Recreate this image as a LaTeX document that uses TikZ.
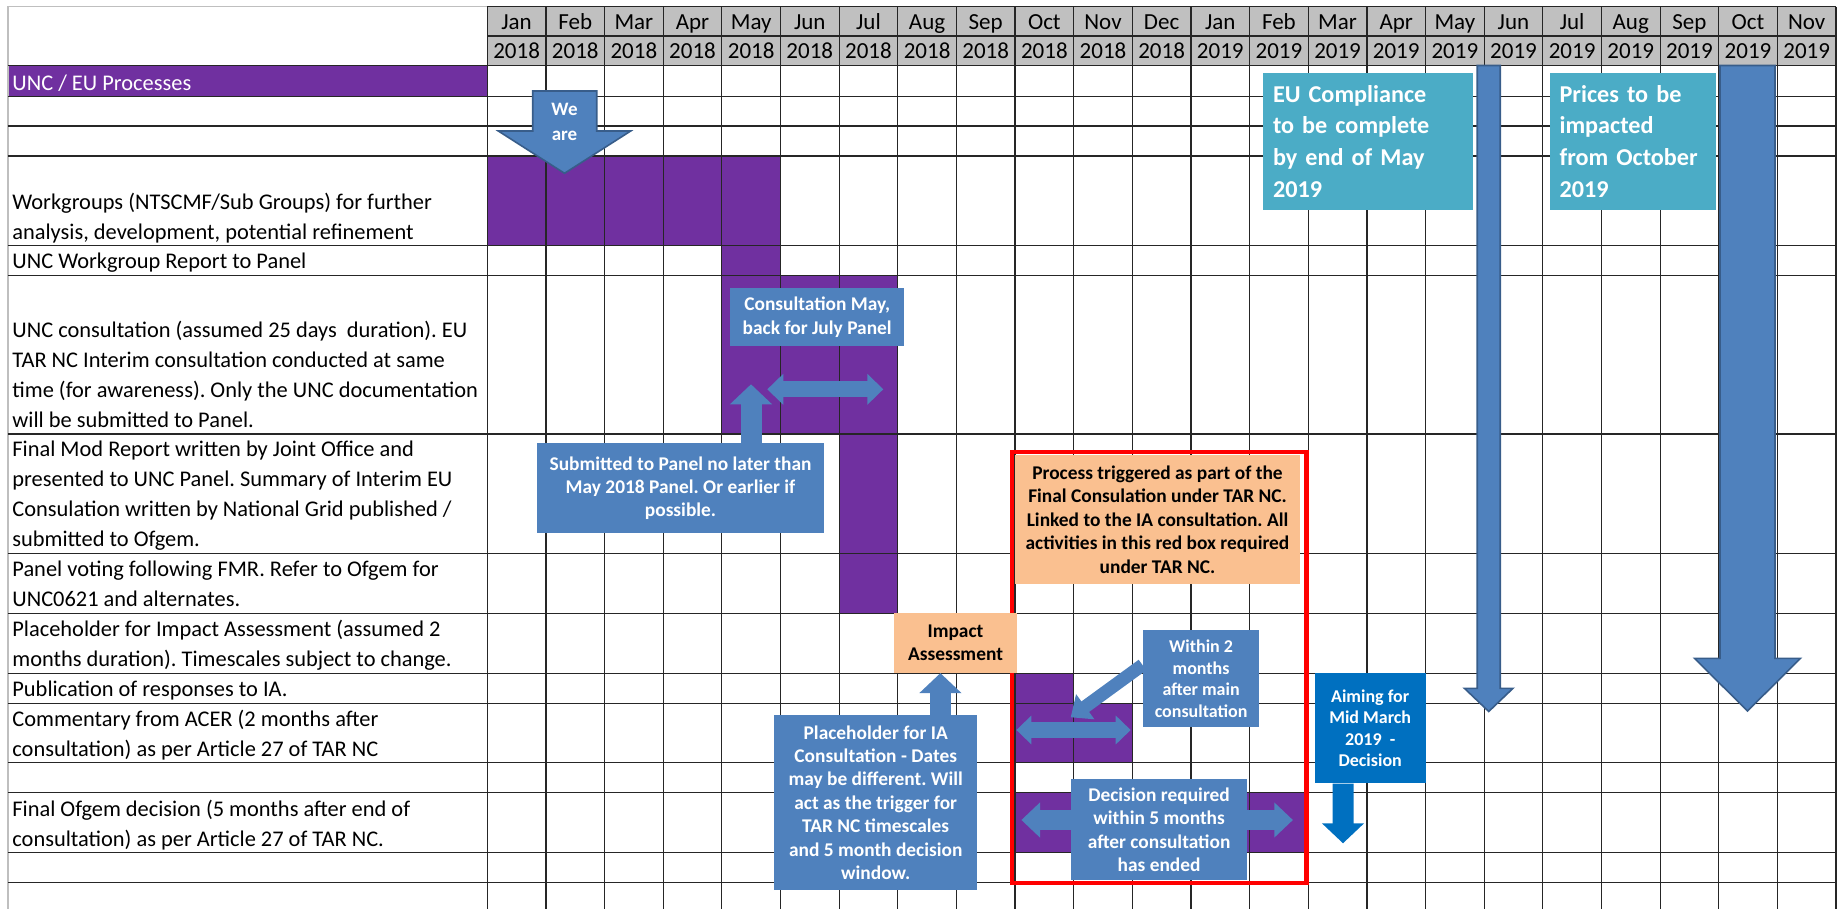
\documentclass[tikz,border=0pt]{standalone}
\usepackage{fontspec}
\setmainfont{Carlito}
\usetikzlibrary{arrows.meta}
\definecolor{purp}{HTML}{7030A0}
\definecolor{hdr}{HTML}{C0C0C0}
\definecolor{calloutblue}{HTML}{4F81BD}
\definecolor{arrowedge}{HTML}{385D8A}
\definecolor{peach}{HTML}{FAC090}
\definecolor{eubox}{HTML}{4BACC6}
\definecolor{deepblue}{HTML}{0070C0}
\frenchspacing

\begin{document}
\begin{tikzpicture}[x=0.5pt,y=-0.5pt,
	cellrule/.style={black!85,line width=0.6pt},
	lbl/.style={anchor=south west,inner sep=0pt,align=left,font=\fontsize{11.2}{15}\selectfont},
	hdrtxt/.style={anchor=base,inner sep=0pt,font=\fontsize{11.5}{15}\selectfont},
	note/.style={fill=calloutblue,text=white,align=center,inner sep=2pt,font=\bfseries\fontsize{9.7}{11.7}\selectfont},
	smallnote/.style={note,font=\bfseries\fontsize{9}{10.8}\selectfont},
	peachnote/.style={note,fill=peach,text=black},
	eunote/.style={fill=eubox,text=white,align=left,inner xsep=5pt,inner ysep=2pt,font=\bfseries\fontsize{12.1}{15.8}\selectfont},
	blockarrow/.style={fill=calloutblue,draw=arrowedge,line width=0.8pt},
	linkarrow/.style={calloutblue,line width=10.5pt,-{Triangle[length=10pt,width=20.5pt]}},
	twoway/.style={calloutblue,line width=8pt,{Triangle[length=8pt,width=15pt]}-{Triangle[length=8pt,width=15pt]}}]
	\useasboundingbox (0,0) rectangle (1837,909);
	\fill[hdr] (487.3,6.7) rectangle (1836.2,65.5);
	\fill[purp] (7.9,65.5) rectangle (487.3,96.5);
	\fill[purp] (487.3,156) rectangle (780.55,245.7);
	\fill[purp] (721.9,245.7) rectangle (780.55,275.3);
	\fill[purp] (721.9,275.3) rectangle (897.85,434);
	\fill[purp] (839.2,434) rectangle (897.85,613.3);
	\fill[purp] (1015.15,673.3) rectangle (1073.8,703.3);
	\fill[purp] (1015.15,703.3) rectangle (1132.45,762.7);
	\fill[purp] (1015.15,792.7) rectangle (1308.4,852.7);
	\draw[black!25,line width=0.6pt] (7.9,909) -- (7.9,6.7) -- (487.3,6.7);
	\foreach \x in {0,...,23}
		\draw[cellrule] ({487.3+58.64*\x},6.7) -- ({487.3+58.64*\x},909);
	\draw[cellrule] (487.3,6.7) -- (1836.2,6.7);
	\draw[cellrule] (487.3,36) -- (1836.2,36);
	\foreach \y in {65.5,96.5,126,156,245.7,275.3,434,553.3,613.3,673.3,703.3,762.7,792.7,852.7,882.7}
		\draw[cellrule] (7.9,\y) -- (1836.2,\y);
	\foreach \m [count=\i from 0] in {Jan,Feb,Mar,Apr,May,Jun,Jul,Aug,Sep,Oct,Nov,Dec,Jan,Feb,Mar,Apr,May,Jun,Jul,Aug,Sep,Oct,Nov} {
		\pgfmathtruncatemacro{\yr}{\i>11 ? 2019 : 2018}
		\node[hdrtxt] (mon\i) at ({516.6+58.64*\i},29.5) {\m};
		\node[hdrtxt] (yr\i) at ({516.6+58.64*\i},58.8) {\yr};
	}
	\node[lbl,text=white] (grp) at (12,99.5) {UNC / EU Processes\strut};
	\node[lbl] (wkg) at (12,248.7) {Workgroups (NTSCMF/Sub Groups) for further\\analysis, development, potential refinement\strut};
	\node[lbl] (wkgrep) at (12,278.3) {UNC Workgroup Report to Panel\strut};
	\node[lbl] (unccons) at (12,437) {UNC consultation (assumed 25 days\ \ duration). EU\\TAR NC Interim consultation conducted at same\\time (for awareness). Only the UNC documentation\\will be submitted to Panel.\strut};
	\node[lbl] (fmr) at (12,556.3) {Final Mod Report written by Joint Office and\\presented to UNC Panel. Summary of Interim EU\\Consulation written by National Grid published /\\submitted to Ofgem.\strut};
	\node[lbl] (vote) at (12,616.3) {Panel voting following FMR. Refer to Ofgem for\\UNC0621 and alternates.\strut};
	\node[lbl] (iarow) at (12,676.3) {Placeholder for Impact Assessment (assumed 2\\months duration). Timescales subject to change.\strut};
	\node[lbl] (pub) at (12,706.3) {Publication of responses to IA.\strut};
	\node[lbl] (acerrow) at (12,765.7) {Commentary from ACER (2 months after\\consultation) as per Article 27 of TAR NC\strut};
	\node[lbl] (ofgem) at (12,855.7) {Final Ofgem decision (5 months after end of\\consultation) as per Article 27 of TAR NC.\strut};
	\draw[blockarrow] (532.7,91) -- (596.7,91) -- (596.7,131) -- (630.7,131) -- (564.5,173.3) -- (498.3,131) -- (532.7,131) -- cycle;
	\node[text=white,align=center,font=\bfseries\fontsize{9.5}{12.5}\selectfont] (weare) at (564.5,122) {We\\are};
	\draw[blockarrow] (1477.2,65.5) -- (1500.2,65.5) -- (1500.2,688.3) -- (1513,688.3) -- (1488.7,711.5) -- (1464.4,688.3) -- (1477.2,688.3) -- cycle;
	\draw[blockarrow] (1720,65.5) -- (1775,65.5) -- (1775,658.3) -- (1800.5,658.3) -- (1747.5,711) -- (1694.5,658.3) -- (1720,658.3) -- cycle;
	\draw[red,line width=2.2pt] (1012,452) rectangle (1306.3,882.8);
	\coordinate (cstart) at (767.3,389.3);
	\coordinate (cend) at (883.3,389.3);
	\draw[twoway] (cstart) -- (cend);
	\coordinate (mstart) at (1016.4,730);
	\coordinate (mend) at (1130.7,730);
	\draw[twoway,{Triangle[length=7.5pt,width=14pt]}-{Triangle[length=7.5pt,width=14pt]}] (mstart) -- (mend);
	\coordinate (dstart) at (1021.4,820);
	\coordinate (dend) at (1292.9,820);
	\draw[twoway,line width=10pt,{Triangle[length=9.3pt,width=17pt]}-{Triangle[length=9.3pt,width=17pt]}] (dstart) -- (dend);
	\node[note,minimum width=87.2pt,minimum height=28.9pt] (consult) at (817.2,317.2) {Consultation May,\\back for July Panel};
	\node[note,minimum width=143.8pt,minimum height=45pt] (submit) at (680.5,488.3) {Submitted to Panel no later than\\May 2018 Panel. Or earlier if\\possible.};
	\node[peachnote,minimum width=61.5pt,minimum height=29.7pt] (impact) at (955.5,643) {Impact\\Assessment};
	\node[note,minimum width=101.4pt,minimum height=87.5pt] (iaph) at (875.7,802.5) {Placeholder for IA\\Consultation - Dates\\may be different. Will\\act as the trigger for\\TAR NC timescales\\and 5 month decision\\window.};
	\node[peachnote,minimum width=142.9pt,minimum height=64.5pt] (tarnc) at (1157.5,519.5) {Process triggered as part of the\\Final Consulation under TAR NC.\\Linked to the IA consultation. All\\activities in this red box required\\under TAR NC.};
	\node[smallnote,minimum width=58.2pt,minimum height=48.7pt] (acer) at (1201.1,678.7) {Within 2\\months\\after main\\consultation};
	\node[note,minimum width=87.7pt,minimum height=50.3pt] (decide) at (1159.1,829.7) {Decision required\\within 5 months\\after consultation\\has ended};
	\node[smallnote,fill=deepblue,minimum width=55.4pt,minimum height=55pt] (aim) at (1370.2,728.3) {Aiming for\\Mid March\\2019~ -\\Decision};
	\node[eunote,text width=94.9pt,minimum height=68.7pt] (eu) at (1367.9,141.3) {EU Compliance\\to be complete\\by end of May\\2019};
	\node[eunote,text width=73.4pt,minimum height=68.7pt] (prices) at (1633,141.3) {Prices to be\\impacted\\from October\\2019};
	\coordinate (subtip) at (751,384.3);
	\draw[linkarrow] (submit.north -| subtip) -- (subtip);
	\draw[linkarrow] ([xshift=32.35pt]iaph.north) -- ([xshift=-7.55pt]impact.south);
	\coordinate (acertip) at (1070.7,717.3);
	\draw[linkarrow,line width=6.5pt,-{Triangle[length=9pt,width=15pt]}] ([yshift=6.85pt]acer.west) -- (acertip);
	\coordinate (aimtip) at (1343,843.3);
	\draw[linkarrow,deepblue] ([xshift=-13.6pt]aim.south) -- (aimtip);
\end{tikzpicture}
\end{document}
